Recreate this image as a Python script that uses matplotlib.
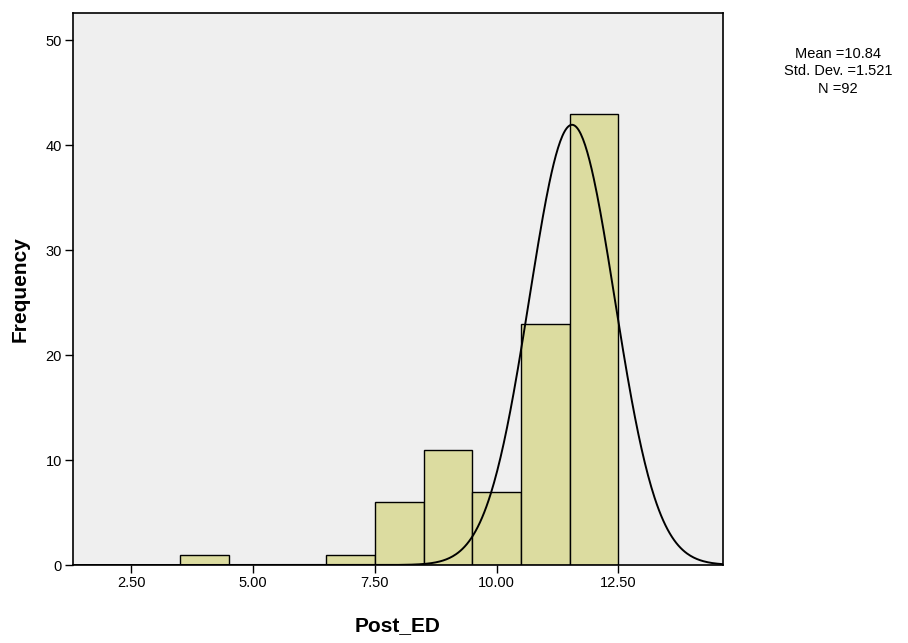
import numpy as np
import matplotlib.pyplot as plt

plt.rcParams['font.family'] = ['Liberation Sans', 'DejaVu Sans']

# histogram bins (left edge) and counts
bin_left = [3.5, 6.5, 7.5, 8.5, 9.5, 10.5, 11.5]
bin_width = 1.0
counts = [1, 1, 6, 11, 7, 23, 43]

# fitted normal curve as drawn (centre and spread)
curve_mean = 11.55
curve_sd = 0.875
n_total = 92

stats_text = "Mean =10.84\nStd. Dev. =1.521\nN =92"

fig = plt.figure(figsize=(9.08, 6.43), dpi=100)
ax = fig.add_axes([0.0804, 0.1213, 0.7158, 0.8585])
ax.set_facecolor('#efefef')

ax.bar(bin_left, counts, width=bin_width, align='edge',
       color='#dcdca0', edgecolor='black', linewidth=1.0, zorder=2)

xs = np.linspace(1.3, 14.65, 600)
ys = n_total * bin_width / (curve_sd * np.sqrt(2 * np.pi)) * np.exp(-0.5 * ((xs - curve_mean) / curve_sd) ** 2)
ax.plot(xs, ys, color='black', linewidth=1.4, zorder=3)

ax.set_xlim(1.3, 14.65)
ax.set_ylim(0, 52.6)
ax.set_xticks([2.5, 5.0, 7.5, 10.0, 12.5])
ax.set_xticklabels(['2.50', '5.00', '7.50', '10.00', '12.50'])
ax.set_yticks([0, 10, 20, 30, 40, 50])
ax.tick_params(axis='both', direction='out', length=6, width=1, labelsize=10.5,
               colors='black', pad=2)

for s in ax.spines.values():
    s.set_linewidth(1.2)
    s.set_color('black')

ax.set_xlabel('Post_ED', fontsize=15, fontweight='bold')
ax.xaxis.set_label_coords(0.5, -0.092)
ax.set_ylabel('Frequency', fontsize=15, fontweight='bold')
ax.yaxis.set_label_coords(-0.066, 0.5)

fig.text(0.923, 0.889, stats_text, ha='center', va='center', fontsize=10.5,
         linespacing=1.35)

fig.savefig('out.png', dpi=100)
